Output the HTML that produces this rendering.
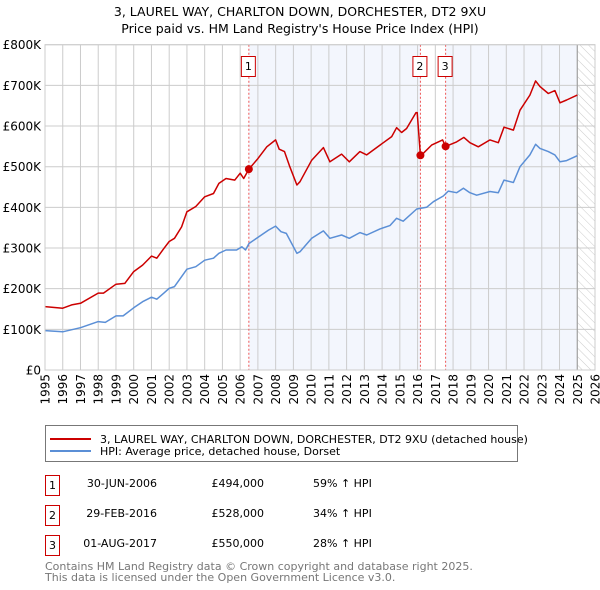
<!DOCTYPE html>
<html><head><meta charset="utf-8"><style>
body{margin:0;background:#fff;font-family:"Liberation Sans","DejaVu Sans",sans-serif;}
svg{display:block}
</style></head><body>
<svg id="c" width="600" height="590" viewBox="0 0 600 590" font-family="DejaVu Sans, Liberation Sans, sans-serif">
<defs><pattern id="hatch" width="6" height="6" patternUnits="userSpaceOnUse" patternTransform="rotate(-45)"><line x1="0" y1="0" x2="0" y2="6" stroke="#ccc" stroke-width="1"/></pattern></defs>
<text x="300" y="16" text-anchor="middle" font-size="12.5" fill="#000">3, LAUREL WAY, CHARLTON DOWN, DORCHESTER, DT2 9XU</text>
<text x="300" y="33" text-anchor="middle" font-size="12.5" fill="#000">Price paid vs. HM Land Registry's House Price Index (HPI)</text>
<g id="plot"></g>
<rect x="45.5" y="425.5" width="472" height="36" fill="#fff" stroke="#777"/>
<line x1="50" y1="439" x2="91" y2="439" stroke="#cc0000" stroke-width="2"/>
<text x="100" y="443" font-size="11">3, LAUREL WAY, CHARLTON DOWN, DORCHESTER, DT2 9XU (detached house)</text>
<line x1="50" y1="451" x2="91" y2="451" stroke="#5b8fd6" stroke-width="2"/>
<text x="100" y="455" font-size="11">HPI: Average price, detached house, Dorset</text>
<g font-size="11">
<rect x="45.5" y="475.5" width="14" height="20" fill="#fff" stroke="#cc0000"/><text x="52.5" y="489" text-anchor="middle">1</text>
<text x="157" y="487" text-anchor="end">30-JUN-2006</text>
<text x="264" y="487" text-anchor="end">£494,000</text>
<text x="313" y="487">59% ↑ HPI</text>
<rect x="45.5" y="505.5" width="14" height="20" fill="#fff" stroke="#cc0000"/><text x="52.5" y="519" text-anchor="middle">2</text>
<text x="157" y="517" text-anchor="end">29-FEB-2016</text>
<text x="264" y="517" text-anchor="end">£528,000</text>
<text x="313" y="517">34% ↑ HPI</text>
<rect x="45.5" y="535.5" width="14" height="20" fill="#fff" stroke="#cc0000"/><text x="52.5" y="549" text-anchor="middle">3</text>
<text x="157" y="547" text-anchor="end">01-AUG-2017</text>
<text x="264" y="547" text-anchor="end">£550,000</text>
<text x="313" y="547">28% ↑ HPI</text>
</g>
<text x="45" y="570" font-size="11" fill="#777">Contains HM Land Registry data © Crown copyright and database right 2025.</text>
<text x="45" y="581" font-size="11" fill="#777">This data is licensed under the Open Government Licence v3.0.</text>
</svg>
<script>
const yTicks=[0,100000,200000,300000,400000,500000,600000,700000,800000];
const yTickLabels=["£0","£100K","£200K","£300K","£400K","£500K","£600K","£700K","£800K"];
const xYears=[1995,1996,1997,1998,1999,2000,2001,2002,2003,2004,2005,2006,2007,2008,2009,2010,2011,2012,2013,2014,2015,2016,2017,2018,2019,2020,2021,2022,2023,2024,2025,2026];
const saleYears=[2006.49,2016.16,2017.58];
const salePrices=[494000,528000,550000];
const saleLabels=["1","2","3"];
const redYears=[1995,1996,1996.5,1997,1998,1998.3,1999,1999.5,2000,2000.5,2001,2001.3,2001.7,2002,2002.3,2002.7,2003,2003.5,2004,2004.5,2004.8,2005.2,2005.7,2006,2006.2,2006.49,2007,2007.5,2008,2008.2,2008.5,2008.8,2009.2,2009.37,2010.03,2010.69,2011.06,2011.72,2012.15,2012.75,2013.13,2013.88,2014.54,2014.82,2015.1,2015.38,2015.91,2015.98,2016.16,2016.32,2016.79,2017.41,2017.58,2018.2,2018.61,2018.95,2019.42,2020.08,2020.55,2020.87,2021.4,2021.77,2022.33,2022.65,2022.9,2023.37,2023.74,2024.03,2024.4,2025.0];
const redValues=[156,152,160,164,189,189,211,213,242,258,280,275,299,316,324,352,389,402,426,434,459,471,467,484,471,494,520,549,566,543,537,500,455,463,516,547,512,531,512,537,529,553,574,596,584,594,633,633,528,533,553,566,550,561,572,559,549,566,559,597,590,639,676,711,697,680,687,657,664,676];
const hpiYears=[1995,1996,1997,1998,1998.4,1999,1999.4,2000,2000.5,2001,2001.3,2001.7,2002,2002.3,2003,2003.5,2004,2004.5,2004.8,2005.2,2005.8,2006.1,2006.3,2006.5,2007,2007.6,2008,2008.3,2008.6,2009.2,2009.37,2010.03,2010.69,2011.06,2011.72,2012.15,2012.75,2013.13,2013.88,2014.44,2014.82,2015.19,2015.95,2016.51,2016.89,2017.45,2017.73,2018.2,2018.58,2018.95,2019.33,2020.08,2020.55,2020.87,2021.4,2021.77,2022.33,2022.65,2022.9,2023.37,2023.74,2024.03,2024.4,2025.0];
const hpiValues=[97,94,104,119,117,133,133,153,168,179,174,189,201,205,248,254,270,275,287,295,295,303,295,311,326,344,354,340,336,287,291,324,342,324,332,324,338,332,347,355,373,366,396,400,414,428,440,436,447,436,430,439,436,467,461,500,529,555,545,537,529,512,515,527];
const X0=45,X1=595,Y0=370,Y1=44.7;
const xs=y=>X0+(y-1995)*(X1-X0)/31;
const ys=v=>Y0-v*(Y0-Y1)/800000;
const NS="http://www.w3.org/2000/svg";
const g=document.getElementById('plot');
function mk(t,a,p){const e=document.createElementNS(NS,t);for(const k in a)e.setAttribute(k,a[k]);(p||g).appendChild(e);return e;}
// background
const bg=mk('rect',{x:X0,y:Y1,width:X1-X0,height:Y0-Y1,fill:'#fff'});


const s1=mk('rect',{x:xs(saleYears[0]),y:Y1,width:xs(saleYears[1])-xs(saleYears[0]),height:Y0-Y1,fill:'#f3f6fd'});


const s2=mk('rect',{x:xs(saleYears[2]),y:Y1,width:xs(2025)-xs(saleYears[2]),height:Y0-Y1,fill:'#f3f6fd'});


const h=mk('rect',{x:xs(2025),y:Y1,width:X1-xs(2025),height:Y0-Y1,fill:'url(#hatch)'});


// grid
xYears.forEach(yr=>{const l=mk('line',{x1:xs(yr),x2:xs(yr),y1:Y1,y2:Y0,stroke:'#ccc','stroke-width':1});


const t=mk('text',{x:0,y:0,'font-size':12,'text-anchor':'end',transform:`translate(${xs(yr)+4.5},374) rotate(-90)`});t.textContent=yr;

});
yTicks.forEach((v,i)=>{const l=mk('line',{x1:X0,x2:X1,y1:ys(v),y2:ys(v),stroke:'#ccc','stroke-width':1});


const t=mk('text',{x:41,y:ys(v)+4.5,'font-size':12,'text-anchor':'end'});t.textContent=yTickLabels[i];

});
const vl=mk('line',{x1:xs(2025),x2:xs(2025),y1:Y1,y2:Y0,stroke:'#999','stroke-width':1});


// sale markers lines
saleYears.forEach((yr,i)=>{const l=mk('line',{x1:xs(yr),x2:xs(yr),y1:Y1,y2:Y0,stroke:'#e55','stroke-width':1,'stroke-dasharray':'2,2'});


const r=mk('rect',{x:xs(yr)-7.5,y:56.5,width:14,height:20,fill:'#fff',stroke:'#cc0000'});


const t=mk('text',{x:xs(yr)-0.5,y:70,'font-size':11,'text-anchor':'middle'});t.textContent=saleLabels[i];

});
function path(xa,va,col,name){const d=xa.map((x,i)=>(i?'L':'M')+xs(x).toFixed(1)+','+ys(va[i]*1000).toFixed(1)).join('');
const p=mk('path',{d:d,fill:'none',stroke:col,'stroke-width':1.5,'stroke-linejoin':'round'});

}
path(hpiYears,hpiValues,'#5b8fd6','hpi-line');
path(redYears,redValues,'#cc0000','property-price-line');
saleYears.forEach((yr,i)=>{const c=mk('circle',{cx:xs(yr),cy:ys(salePrices[i]),r:4,fill:'#cc0000'});

});
const fr=mk('rect',{x:X0,y:Y1,width:X1-X0,height:Y0-Y1,fill:'none',stroke:'#ccc'});


</script>
</body></html>
